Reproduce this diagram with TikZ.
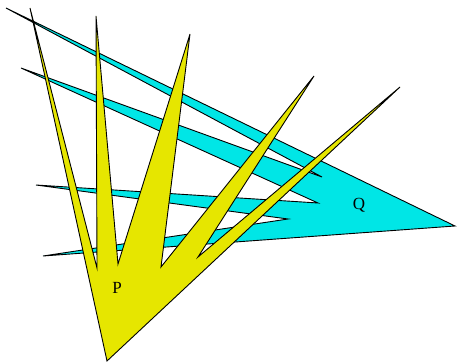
\documentclass[tikz,border=0pt]{standalone}
\usepackage{fontspec}
\setmainfont{Liberation Serif}
\definecolor{qcyan}{RGB}{0,230,230}
\definecolor{pyellow}{RGB}{230,230,0}
\begin{document}
\begin{tikzpicture}[x=1pt,y=-1pt,
  shapeline/.style={draw=black,line width=0.9pt,line join=miter},
  lbl/.style={font=\fontsize{17}{17}\selectfont,inner sep=0pt}]
\useasboundingbox (0,0) rectangle (457,363);
% Q (cyan)
\filldraw[shapeline,fill=qcyan] (455,226) -- (6,8) -- (322,177) -- (21,68) -- (318,203) -- (36,185) -- (288,219) -- (43,256) -- cycle;
% P (yellow)
\filldraw[shapeline,fill=pyellow] (107,361) -- (30,8) -- (97,268) -- (96,16) -- (118,264) -- (190,34) -- (161,267) -- (314,76) -- (198,257) -- (400,87) -- cycle;
\node[lbl] (p) at (117,288) {P};
\node[lbl] (q) at (359,205) {Q};
\end{tikzpicture}
\end{document}
